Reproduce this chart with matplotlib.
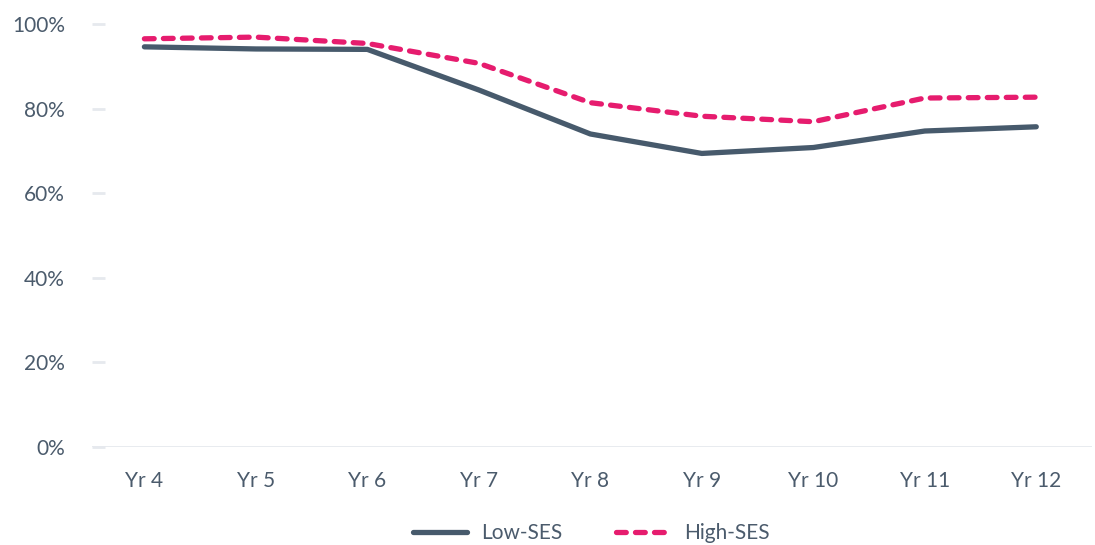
import numpy as np
import matplotlib
matplotlib.use("Agg")
import matplotlib.pyplot as plt
from matplotlib.lines import Line2D

categories = ["Yr 4", "Yr 5", "Yr 6", "Yr 7", "Yr 8", "Yr 9", "Yr 10", "Yr 11", "Yr 12"]
low_ses = [94.6, 94.1, 94.0, 84.4, 74.0, 69.4, 70.8, 74.7, 75.7]
high_ses = [96.5, 96.9, 95.4, 90.7, 81.4, 78.2, 76.9, 82.5, 82.7]
y_ticks = [0, 20, 40, 60, 80, 100]

TEXT = "#4b5b6c"
LOW_C = "#475a6c"
HIGH_C = "#e61c6e"
GRID = "#e6e9ee"

plt.rcParams['font.family'] = ['Lato', 'DejaVu Sans']

fig = plt.figure(figsize=(10.95, 5.45), dpi=100)
ax = fig.add_axes([92 / 1095, 1 - 447 / 545, (1092 - 92) / 1095, (447 - 24) / 545])

xi = np.arange(len(categories))
DASH = (0, (1.85, 1.75))
ax.plot(xi, low_ses, color=LOW_C, lw=3.8, solid_capstyle='round', solid_joinstyle='round', zorder=3)
ax.plot(xi, high_ses, color=HIGH_C, lw=3.8, linestyle=DASH, dash_capstyle='round',
        dash_joinstyle='round', zorder=4)

ax.set_xlim(-0.47, 8.5)
ax.set_ylim(0, 100)
ax.set_yticks(y_ticks)
ax.set_yticklabels([f"{v}%" for v in y_ticks])
ax.set_xticks(xi)
ax.set_xticklabels(categories)
for s in ax.spines.values():
    s.set_visible(False)
ax.axhline(0, color=GRID, lw=2, zorder=1)
ax.tick_params(axis='y', direction='in', length=9.5, width=2, color=GRID, pad=19.5,
               labelsize=15, labelcolor=TEXT)
ax.tick_params(axis='x', length=0, pad=17, labelsize=15, labelcolor=TEXT)

handles = [Line2D([], [], color=LOW_C, lw=3.8, solid_capstyle='round'),
           Line2D([], [], color=HIGH_C, lw=3.8, linestyle=DASH, dash_capstyle='round')]
fig.legend(handles, ["Low-SES", "High-SES"], loc='center', bbox_to_anchor=(0.54, 0.022),
           ncol=2, frameon=False, fontsize=15, labelcolor=TEXT, handlelength=2.6,
           handletextpad=0.65, columnspacing=2.6)

fig.savefig("out.png", dpi=100)
